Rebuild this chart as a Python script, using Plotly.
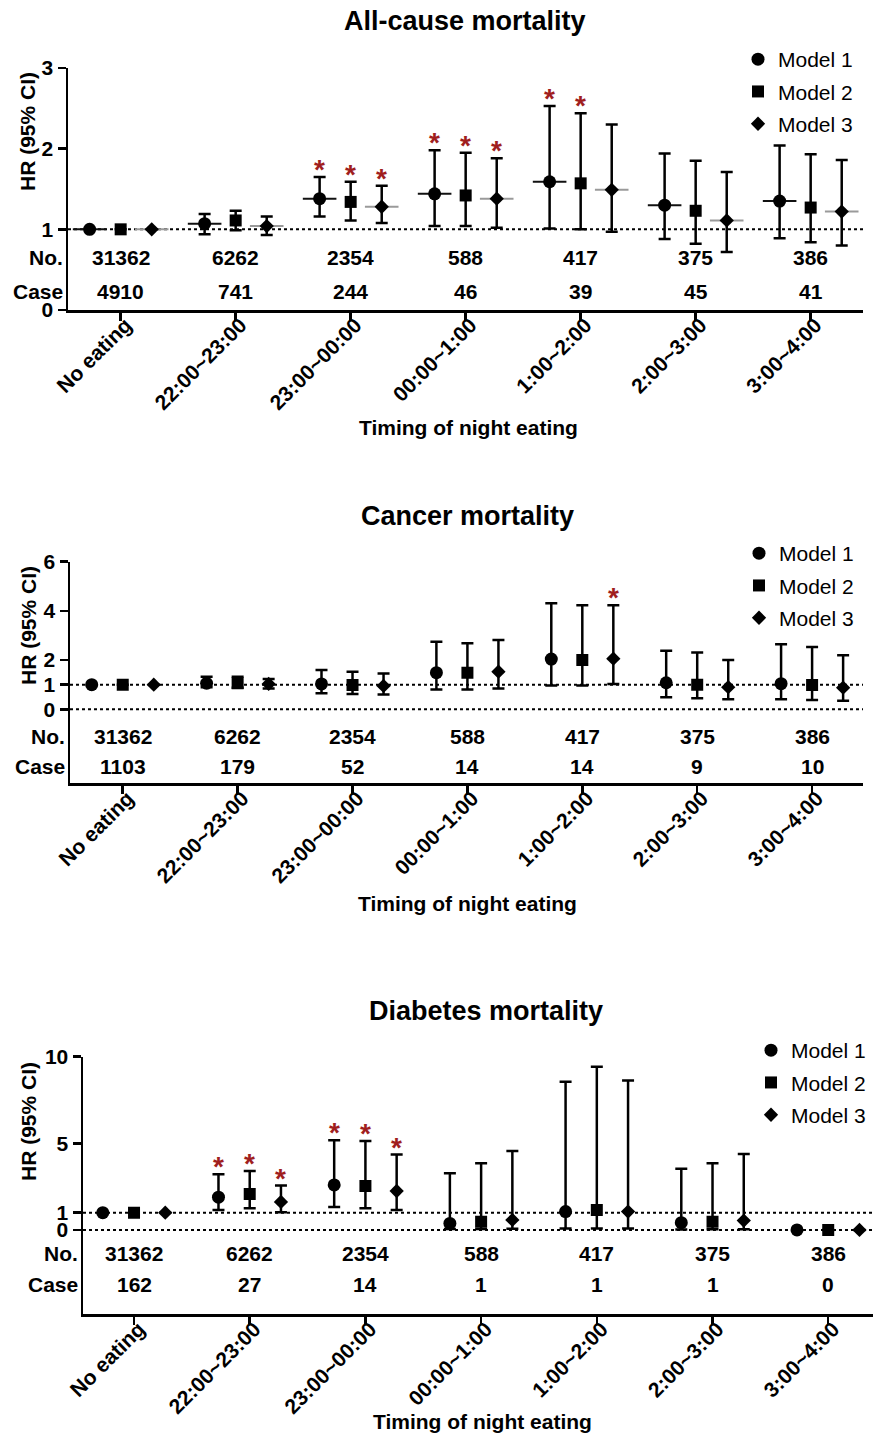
import plotly.graph_objects as go

# ---------------- data ----------------
categories = ["No eating", "22:00~23:00", "23:00~00:00", "00:00~1:00",
              "1:00~2:00", "2:00~3:00", "3:00~4:00"]
models = ["Model 1", "Model 2", "Model 3"]

# All-cause mortality
ac_no = [31362, 6262, 2354, 588, 417, 375, 386]
ac_case = [4910, 741, 244, 46, 39, 45, 41]
ac_m1_hr = [1.0, 1.07, 1.38, 1.44, 1.59, 1.30, 1.35]
ac_m1_lo = [1.0, 0.94, 1.16, 1.04, 1.01, 0.88, 0.89]
ac_m1_hi = [1.0, 1.19, 1.65, 1.98, 2.53, 1.94, 2.04]
ac_m2_hr = [1.0, 1.11, 1.34, 1.42, 1.57, 1.23, 1.27]
ac_m2_lo = [1.0, 0.99, 1.11, 1.04, 1.00, 0.82, 0.84]
ac_m2_hi = [1.0, 1.23, 1.59, 1.95, 2.44, 1.85, 1.93]
ac_m3_hr = [1.0, 1.04, 1.28, 1.38, 1.49, 1.11, 1.22]
ac_m3_lo = [1.0, 0.93, 1.08, 1.02, 0.97, 0.72, 0.80]
ac_m3_hi = [1.0, 1.16, 1.54, 1.88, 2.30, 1.71, 1.86]
ac_m1_sig = [0, 0, 1, 1, 1, 0, 0]
ac_m2_sig = [0, 0, 1, 1, 1, 0, 0]
ac_m3_sig = [0, 0, 1, 1, 0, 0, 0]

# Cancer mortality
ca_no = [31362, 6262, 2354, 588, 417, 375, 386]
ca_case = [1103, 179, 52, 14, 14, 9, 10]
ca_m1_hr = [1.0, 1.06, 1.03, 1.49, 2.04, 1.08, 1.04]
ca_m1_lo = [1.0, 0.90, 0.65, 0.81, 0.97, 0.49, 0.41]
ca_m1_hi = [1.0, 1.32, 1.60, 2.75, 4.31, 2.38, 2.64]
ca_m2_hr = [1.0, 1.06, 0.99, 1.49, 2.00, 1.00, 0.99]
ca_m2_lo = [1.0, 0.88, 0.62, 0.81, 0.97, 0.45, 0.38]
ca_m2_hi = [1.0, 1.32, 1.53, 2.68, 4.23, 2.31, 2.53]
ca_m3_hr = [1.0, 1.03, 0.95, 1.53, 2.06, 0.90, 0.88]
ca_m3_lo = [1.0, 0.85, 0.60, 0.85, 1.03, 0.41, 0.35]
ca_m3_hi = [1.0, 1.23, 1.46, 2.82, 4.23, 2.00, 2.20]
ca_m1_sig = [0, 0, 0, 0, 0, 0, 0]
ca_m2_sig = [0, 0, 0, 0, 0, 0, 0]
ca_m3_sig = [0, 0, 0, 0, 1, 0, 0]

# Diabetes mortality
di_no = [31362, 6262, 2354, 588, 417, 375, 386]
di_case = [162, 27, 14, 1, 1, 1, 0]
di_m1_hr = [1.0, 1.89, 2.60, 0.38, 1.06, 0.42, 0.0]
di_m1_lo = [1.0, 1.15, 1.33, 0.05, 0.08, 0.03, 0.0]
di_m1_hi = [1.0, 3.21, 5.18, 3.27, 8.56, 3.54, 0.0]
di_m2_hr = [1.0, 2.08, 2.54, 0.48, 1.15, 0.48, 0.0]
di_m2_lo = [1.0, 1.25, 1.25, 0.06, 0.08, 0.04, 0.0]
di_m2_hi = [1.0, 3.40, 5.14, 3.85, 9.42, 3.85, 0.0]
di_m3_hr = [1.0, 1.62, 2.25, 0.58, 1.06, 0.54, 0.0]
di_m3_lo = [1.0, 1.02, 1.15, 0.07, 0.08, 0.04, 0.0]
di_m3_hi = [1.0, 2.56, 4.35, 4.56, 8.62, 4.38, 0.0]
di_m1_sig = [0, 1, 1, 0, 0, 0, 0]
di_m2_sig = [0, 1, 1, 0, 0, 0, 0]
di_m3_sig = [0, 1, 1, 0, 0, 0, 0]

titles = ["All-cause mortality", "Cancer mortality", "Diabetes mortality"]
y_tickvals = [[0, 1, 2, 3], [0, 1, 2, 4, 6], [0, 1, 5, 10]]

# ---------------- layout helpers ----------------
W, H = 873, 1435
FONT = "Liberation Sans, Arial, Helvetica, sans-serif"
STAR = "#A01E1E"


def px(x):
    return x / W


def py(y):
    return 1 - y / H


panels = [
    dict(hr=[ac_m1_hr, ac_m2_hr, ac_m3_hr], lo=[ac_m1_lo, ac_m2_lo, ac_m3_lo],
         hi=[ac_m1_hi, ac_m2_hi, ac_m3_hi], sig=[ac_m1_sig, ac_m2_sig, ac_m3_sig],
         no=ac_no, case=ac_case,
         xdom=(68, 863), xr=(-0.458, 6.455), ydom=(310, 68), yr=(0, 3),
         ref=[1], rows=(0.646, 0.224), title_xy=(465, 21), xt_xy=(468, 428),
         yt_xy=(28, 132), leg_xy=(738, 39), meanline=True),
    dict(hr=[ca_m1_hr, ca_m2_hr, ca_m3_hr], lo=[ca_m1_lo, ca_m2_lo, ca_m3_lo],
         hi=[ca_m1_hi, ca_m2_hi, ca_m3_hi], sig=[ca_m1_sig, ca_m2_sig, ca_m3_sig],
         no=ca_no, case=ca_case,
         xdom=(70, 863), xr=(-0.459, 6.443), ydom=(783.3, 561.7), yr=(-3.008, 6),
         ref=[0, 1], rows=(-1.11, -2.33), title_xy=(467, 516), xt_xy=(467, 903),
         yt_xy=(28, 626), leg_xy=(739, 533), meanline=False),
    dict(hr=[di_m1_hr, di_m2_hr, di_m3_hr], lo=[di_m1_lo, di_m2_lo, di_m3_lo],
         hi=[di_m1_hi, di_m2_hi, di_m3_hi], sig=[di_m1_sig, di_m2_sig, di_m3_sig],
         no=di_no, case=di_case,
         xdom=(83, 873), xr=(-0.441, 6.387), ydom=(1314, 1056.7), yr=(-4.85, 10),
         ref=[0, 1], rows=(-1.33, -3.12), title_xy=(486, 1011), xt_xy=(482, 1421),
         yt_xy=(28, 1122), leg_xy=(751, 1030), meanline=False),
]

offsets = [-0.27, 0.0, 0.27]
symbols = ["circle", "square", "diamond"]
sizes = [13, 12, 11]
meancolors = ["#111111", None, "#9a9a9a"]

fig = go.Figure()
annotations = []
shapes = []
layout = dict(width=W, height=H,
              margin=dict(l=0, r=0, t=0, b=0, pad=0, autoexpand=False),
              paper_bgcolor="white", plot_bgcolor="white", autosize=False,
              font=dict(family=FONT, color="black"))

for p, P in enumerate(panels):
    sfx = "" if p == 0 else str(p + 1)
    xa, ya = "x" + sfx, "y" + sfx
    leg = "legend" + sfx
    n = len(categories)
    for m in range(3):
        xs = [i + offsets[m] for i in range(n)]
        hr, lo, hi = P["hr"][m], P["lo"][m], P["hi"][m]
        if P["meanline"] and meancolors[m]:
            fig.add_trace(go.Scatter(
                x=xs, y=hr, mode="markers", xaxis=xa, yaxis=ya, showlegend=False,
                hoverinfo="skip",
                marker=dict(symbol="line-ew", size=24,
                            line=dict(width=2, color=meancolors[m]))))
        fig.add_trace(go.Scatter(
            x=xs, y=hr, mode="markers", name=models[m], xaxis=xa, yaxis=ya,
            legend=leg, legendgroup=f"{p}-{m}", showlegend=True,
            marker=dict(symbol=symbols[m], size=sizes[m], color="black",
                        line=dict(width=0)),
            error_y=dict(type="data", symmetric=False,
                         array=[h - v for h, v in zip(hi, hr)],
                         arrayminus=[v - l for v, l in zip(hr, lo)],
                         color="black", thickness=2.5, width=6)))
        for i in range(n):
            if P["sig"][m][i]:
                annotations.append(dict(
                    x=xs[i], y=hi[i], xref=xa, yref=ya, text="*", showarrow=False,
                    xanchor="center", yanchor="bottom", yshift=-10,
                    font=dict(size=28, color=STAR, family=FONT, weight="bold")))
    # No. / Case rows
    for r, (lab, vals) in enumerate([("No.", P["no"]), ("Case", P["case"])]):
        yv = P["rows"][r]
        annotations.append(dict(x=0, xref=xa + " domain", y=yv, yref=ya,
                                text=lab, showarrow=False, xanchor="right",
                                yanchor="middle", xshift=-3,
                                font=dict(size=21, family=FONT, weight="bold")))
        for i, v in enumerate(vals):
            annotations.append(dict(x=i, xref=xa, y=yv, yref=ya, text=str(v),
                                    showarrow=False, xanchor="center",
                                    yanchor="middle",
                                    font=dict(size=21, family=FONT, weight="bold")))
    # reference dotted lines
    for rv in P["ref"]:
        shapes.append(dict(type="line", xref=xa + " domain", x0=0, x1=1,
                           yref=ya, y0=rv, y1=rv, layer="below",
                           line=dict(color="black", width=2, dash="dot")))
    # titles
    annotations.append(dict(x=px(P["title_xy"][0]), y=py(P["title_xy"][1]),
                            xref="paper", yref="paper", text=titles[p],
                            showarrow=False, xanchor="center", yanchor="middle",
                            font=dict(size=27, family=FONT, weight="bold")))
    annotations.append(dict(x=px(P["xt_xy"][0]), y=py(P["xt_xy"][1]),
                            xref="paper", yref="paper", text="Timing of night eating",
                            showarrow=False, xanchor="center", yanchor="middle",
                            font=dict(size=21, family=FONT, weight="bold")))
    annotations.append(dict(x=px(P["yt_xy"][0]), y=py(P["yt_xy"][1]),
                            xref="paper", yref="paper", text="HR (95% CI)",
                            textangle=-90, showarrow=False,
                            xanchor="center", yanchor="middle",
                            font=dict(size=21, family=FONT, weight="bold")))
    # axes
    layout["xaxis" + sfx] = dict(
        domain=[px(P["xdom"][0]), px(P["xdom"][1])], range=list(P["xr"]),
        anchor=ya, tickmode="array", tickvals=list(range(n)), ticktext=categories,
        tickangle=-45, ticks="outside", ticklen=8, tickwidth=2.5, tickcolor="black",
        ticklabelstandoff=-16, ticklabelshift=5,
        showline=True, linecolor="black", linewidth=2.5, showgrid=False,
        zeroline=False, tickfont=dict(size=21, family=FONT, weight="bold"),
        fixedrange=True, automargin=False)
    layout["yaxis" + sfx] = dict(
        domain=[py(P["ydom"][0]), py(P["ydom"][1])], range=list(P["yr"]),
        anchor=xa, tickmode="array", tickvals=y_tickvals[p],
        ticks="outside", ticklen=8, tickwidth=2.5, tickcolor="black",
        showline=True, linecolor="black", linewidth=2.5, showgrid=False,
        zeroline=False, tickfont=dict(size=21, family=FONT, weight="bold"),
        fixedrange=True, automargin=False)
    layout[leg] = dict(x=px(P["leg_xy"][0]), y=py(P["leg_xy"][1]),
                       xanchor="left", yanchor="top", bgcolor="rgba(0,0,0,0)",
                       font=dict(size=21, family=FONT, color="black"),
                       itemsizing="trace", tracegroupgap=2, traceorder="grouped")

layout["annotations"] = annotations
layout["shapes"] = shapes
layout["showlegend"] = True
fig.update_layout(**layout)
fig.write_html(
    "out.html",
    config={"displayModeBar": False, "staticPlot": True},
    post_script="document.body.style.margin='0';"
                "document.body.style.overflow='hidden';",
)
